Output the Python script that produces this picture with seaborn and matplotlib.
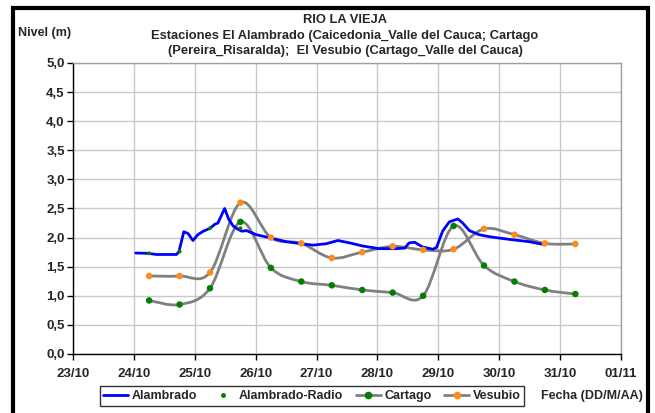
import numpy as np
import pandas as pd
import matplotlib
matplotlib.use("Agg")
import matplotlib.pyplot as plt
from matplotlib.path import Path
from matplotlib.patches import PathPatch, Rectangle
from matplotlib.lines import Line2D
import seaborn as sns

# ---------------- data ----------------
tick_pos = [23, 24, 25, 26, 27, 28, 29, 30, 31, 32]
tick_labels = ["23/10", "24/10", "25/10", "26/10", "27/10", "28/10",
               "29/10", "30/10", "31/10", "01/11"]

alam_x = [24.03, 24.23, 24.37, 24.59, 24.70, 24.74, 24.82, 24.89, 24.97, 25.05,
          25.14, 25.25, 25.33, 25.38, 25.49, 25.56, 25.63, 25.70, 25.77, 25.85,
          26.01, 26.26, 26.50, 26.75, 26.94, 27.16, 27.35, 27.54, 27.76, 28.03,
          28.31, 28.45, 28.52, 28.61, 28.74, 28.91, 28.97, 29.02, 29.07, 29.18,
          29.32, 29.40, 29.51, 29.67, 29.84, 30.16, 30.49, 30.74]
alam_y = [1.735, 1.73, 1.71, 1.71, 1.71, 1.76, 2.10, 2.07, 1.95, 2.05,
          2.11, 2.16, 2.23, 2.25, 2.50, 2.31, 2.20, 2.15, 2.11, 2.12,
          2.05, 1.99, 1.93, 1.895, 1.87, 1.895, 1.95, 1.91, 1.855, 1.81,
          1.81, 1.82, 1.91, 1.92, 1.84, 1.80, 1.83, 1.97, 2.11, 2.27,
          2.32, 2.25, 2.12, 2.05, 2.015, 1.97, 1.93, 1.88]

radio_x = [24.25, 24.75, 25.25, 25.75]
radio_y = [1.73, 1.76, 2.16, 2.16]

obs_x = [24.25, 24.75, 25.25, 25.75, 26.25, 26.75, 27.25, 27.75,
         28.25, 28.75, 29.25, 29.75, 30.25, 30.75, 31.25]
cartago_y = [0.92, 0.85, 1.13, 2.27, 1.48, 1.245, 1.18, 1.10,
             1.055, 1.00, 2.20, 1.52, 1.245, 1.10, 1.03]
vesubio_y = [1.34, 1.34, 1.40, 2.60, 2.00, 1.90, 1.65, 1.75,
             1.85, 1.79, 1.80, 2.15, 2.05, 1.90, 1.89]

# ---------------- style ----------------
sns.set_theme(style="white")
plt.rcParams["font.family"] = ["Liberation Sans", "DejaVu Sans"]
plt.rcParams["font.weight"] = "bold"

BLUE = "#0000FF"
GRAY = "#808080"
GREEN = "#008000"
ORANGE = "#FF8C1A"

fig = plt.figure(figsize=(6.55, 4.13), dpi=100)
ax = fig.add_axes([73 / 655, 1 - 354 / 413, 548 / 655, (354 - 63) / 413])


def smooth_path(xs, ys):
    """Excel-style smoothed line (Catmull-Rom -> cubic Bezier)."""
    pts = np.column_stack([xs, ys]).astype(float)
    verts = [pts[0]]
    codes = [Path.MOVETO]
    n = len(pts)
    for i in range(n - 1):
        p0 = pts[i - 1] if i > 0 else pts[i]
        p1 = pts[i]
        p2 = pts[i + 1]
        p3 = pts[i + 2] if i + 2 < n else pts[i + 1]
        c1 = p1 + (p2 - p0) / 6.0
        c2 = p2 - (p3 - p1) / 6.0
        verts += [c1, c2, p2]
        codes += [Path.CURVE4] * 3
    return Path(verts, codes)


df_alam = pd.DataFrame({"x": alam_x, "y": alam_y})
df_radio = pd.DataFrame({"x": radio_x, "y": radio_y})
df_obs = pd.DataFrame({"x": obs_x, "cartago": cartago_y, "vesubio": vesubio_y})

# smoothed gray lines
for col in ["vesubio", "cartago"]:
    ax.add_patch(PathPatch(smooth_path(df_obs["x"], df_obs[col]),
                           facecolor="none", edgecolor=GRAY, lw=2.0,
                           zorder=3, capstyle="round", joinstyle="round"))

sns.lineplot(data=df_alam, x="x", y="y", ax=ax, color=BLUE, lw=2.0,
             zorder=4, sort=False)
sns.scatterplot(data=df_obs, x="x", y="vesubio", ax=ax, color=ORANGE, s=22,
                edgecolor="none", zorder=5)
sns.scatterplot(data=df_obs, x="x", y="cartago", ax=ax, color=GREEN, s=22,
                edgecolor="none", zorder=5)
sns.scatterplot(data=df_radio, x="x", y="y", ax=ax, color=GREEN, s=8,
                edgecolor="none", zorder=6)

ax.set_xlim(23, 32)
ax.set_ylim(0, 5)
ax.set_xticks(tick_pos)
ax.set_xticklabels(tick_labels)
yt = np.arange(0, 5.01, 0.5)
ax.set_yticks(yt)
ax.set_yticklabels([f"{v:.1f}".replace(".", ",") for v in yt])
ax.set_xlabel("")
ax.set_ylabel("")
ax.grid(True, color="#C8C8C8", lw=1.0)
ax.set_axisbelow(True)
for s in ["top", "right"]:
    ax.spines[s].set_color("#A0A0A0")
    ax.spines[s].set_linewidth(1.0)
for s in ["left", "bottom"]:
    ax.spines[s].set_color("black")
    ax.spines[s].set_linewidth(1.0)
ax.tick_params(axis="both", which="major", direction="out", length=4,
               width=1, color="black", labelsize=9.5)
ax.tick_params(axis="x", bottom=True, pad=6)
ax.tick_params(axis="y", left=True, pad=2)
for lab in ax.get_xticklabels() + ax.get_yticklabels():
    lab.set_fontweight("bold")

# titles and labels
fig.text(345 / 655, 1 - 20 / 413, "RIO LA VIEJA", ha="center", va="center",
         fontsize=9.3, fontweight="bold")
fig.text(345 / 655, 1 - 36 / 413,
         "Estaciones El Alambrado (Caicedonia_Valle del Cauca; Cartago",
         ha="center", va="center", fontsize=9.3, fontweight="bold")
fig.text(345 / 655, 1 - 51 / 413,
         "(Pereira_Risaralda);  El Vesubio (Cartago_Valle del Cauca)",
         ha="center", va="center", fontsize=9.3, fontweight="bold")
fig.text(18 / 655, 1 - 33 / 413, "Nivel (m)", ha="left", va="center",
         fontsize=9, fontweight="bold")
fig.text(643 / 655, 1 - 396 / 413, "Fecha (DD/M/AA)", ha="right",
         va="center", fontsize=9, fontweight="bold")

# legend
handles = [
    Line2D([], [], color=BLUE, lw=2.0),
    Line2D([], [], color=GREEN, lw=0, marker="o", markersize=2.5),
    Line2D([], [], color=GRAY, lw=2.0, marker="o", markersize=4.5,
           markerfacecolor=GREEN, markeredgecolor=GREEN),
    Line2D([], [], color=GRAY, lw=2.0, marker="o", markersize=4.5,
           markerfacecolor=ORANGE, markeredgecolor=ORANGE),
]
labels = ["Alambrado", "Alambrado-Radio", "Cartago", "Vesubio"]
leg = fig.legend(handles, labels, loc="center", ncol=4,
                 bbox_to_anchor=(312 / 655, 1 - 396 / 413),
                 frameon=True, fancybox=False, edgecolor="black",
                 fontsize=9, handlelength=2.0, handletextpad=0.3,
                 columnspacing=1.0, borderpad=0.3, borderaxespad=0)
leg.get_frame().set_linewidth(1.0)
for t in leg.get_texts():
    t.set_fontweight("bold")

# outer black frame of the chart
fig.patches.append(Rectangle((13 / 655, -0.05), (648 - 13) / 655,
                             1.05 - 8 / 413, transform=fig.transFigure,
                             fill=False, edgecolor="black", lw=3,
                             zorder=10))

fig.savefig("out.png", dpi=100)
